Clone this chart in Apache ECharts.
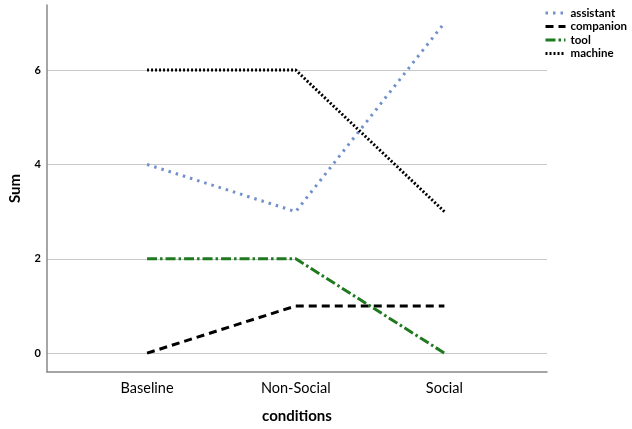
<!DOCTYPE html>
<html><head><meta charset="utf-8">
<script src="https://cdn.jsdelivr.net/npm/echarts@6/dist/echarts.min.js"></script>
<style>html,body{margin:0;padding:0;background:#fff}#c{width:632px;height:429px}</style>
</head><body><div id="c"></div>
<script>
const categories = ["Baseline", "Non-Social", "Social"];
const assistant = [4, 3, 7];
const companion = [0, 1, 1];
const tool = [2, 2, 0];
const machine = [6, 6, 3];
const yTicks = [0, 2, 4, 6];

const font = "Lato";
function pts(arr){ return arr.map((v,i)=>[i,v]); }
function mk(name, data, color, dash, width){
  return {name, type:'line', data:pts(data), symbol:'none', silent:true,
    lineStyle:{color, width, type:dash, cap:'butt'}, itemStyle:{color}};
}
const chart = echarts.init(document.getElementById('c'));
chart.setOption({
  animation:false,
  textStyle:{fontFamily:font},
  grid:{left:41, right:85, top:5, bottom:52},
  legend:{orient:'vertical', left:544, top:7, padding:0, itemWidth:20, itemHeight:12, itemGap:1.5,
    itemStyle:{opacity:0},
    lineStyle:{width:3},
    textStyle:{fontSize:11.5, fontWeight:'bold', color:'#000', fontFamily:font, overflow:'none'},
    data:['assistant','companion','tool','machine']},
  xAxis:{type:'value', min:-0.673, max:2.69,
    name:'conditions', nameLocation:'middle', nameGap:37,
    nameTextStyle:{fontSize:15, fontWeight:'bold', color:'#000', fontFamily:font},
    axisLine:{onZero:false, lineStyle:{color:'#888', width:1.5}},
    axisTick:{show:false, customValues:[0,1,2]},
    splitLine:{show:false},
    axisLabel:{customValues:[0,1,2], formatter:v=>categories[Math.round(v)], fontSize:14.5, color:'#000', margin:9, fontFamily:font}},
  yAxis:{type:'value', min:-0.4, max:7.38,
    name:'Sum', nameLocation:'middle', nameGap:24,
    nameTextStyle:{fontSize:15, fontWeight:'bold', color:'#000', fontFamily:font},
    axisLine:{show:true, onZero:false, lineStyle:{color:'#888', width:1.5}},
    axisTick:{show:false, customValues:yTicks},
    axisLabel:{customValues:yTicks, fontSize:11, fontWeight:'bold', color:'#000', margin:6, fontFamily:font},
    splitLine:{show:true, lineStyle:{color:'#c8c8c8', width:1}}},
  series:[
    mk('assistant', assistant, '#7090cc', [2.5,5], 3),
    mk('companion', companion, '#000', [8,5], 3),
    mk('tool', tool, '#1f7a1f', [10,3,2.5,3], 3),
    mk('machine', machine, '#000', [2,2], 3)
  ]
});
</script></body></html>
